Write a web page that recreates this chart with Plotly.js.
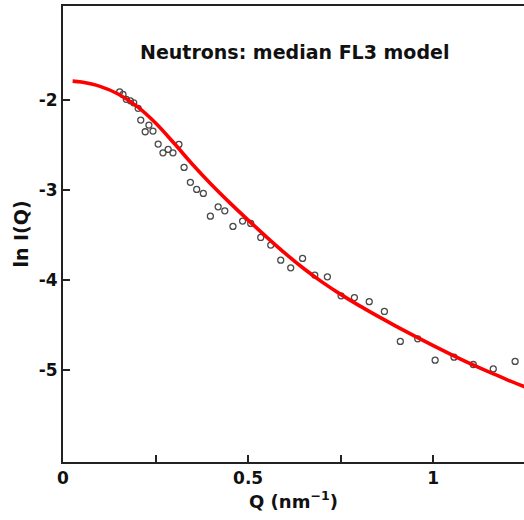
<!DOCTYPE html>
<html>
<head>
<meta charset="utf-8">
<script src="https://cdn.plot.ly/plotly-3.0.1.min.js"></script>
<style>html,body{margin:0;padding:0;background:#fff;}#chart{width:524px;height:520px;}</style>
</head>
<body>
<div id="chart"></div>
<script>
// Measured data points (Q in nm^-1, ln I(Q))
const dataQ = [0.153,0.162,0.171,0.182,0.191,0.203,0.210,0.222,0.232,0.243,0.257,0.270,0.284,0.297,0.313,0.327,0.344,0.361,0.379,0.398,0.419,0.437,0.459,0.485,0.507,0.534,0.561,0.588,0.615,0.647,0.680,0.714,0.751,0.787,0.827,0.868,0.911,0.958,1.005,1.056,1.108,1.162,1.221];
const dataLnI = [-1.908,-1.937,-1.992,-2.008,-2.030,-2.092,-2.222,-2.352,-2.278,-2.344,-2.489,-2.586,-2.548,-2.586,-2.492,-2.748,-2.914,-2.992,-3.037,-3.289,-3.186,-3.230,-3.403,-3.344,-3.370,-3.526,-3.611,-3.778,-3.863,-3.759,-3.944,-3.963,-4.174,-4.194,-4.239,-4.348,-4.681,-4.652,-4.889,-4.856,-4.937,-4.986,-4.903];

// Model curve (median FL3 model)
const modelQ = [0.026,0.05,0.10,0.15,0.20,0.25,0.30,0.35,0.40,0.45,0.50,0.55,0.60,0.65,0.70,0.75,0.80,0.85,0.90,0.95,1.00,1.05,1.10,1.15,1.20,1.25];
const modelLnI = [-1.789,-1.800,-1.848,-1.935,-2.070,-2.255,-2.480,-2.715,-2.935,-3.139,-3.333,-3.522,-3.703,-3.871,-4.022,-4.158,-4.283,-4.400,-4.513,-4.622,-4.728,-4.830,-4.928,-5.020,-5.107,-5.190];

const xTickVals = [0, 0.5, 1];
const xTickText = ['0', '0.5', '1'];
const xMinorStep = 0.25;
const yTickVals = [-2, -3, -4, -5];
const yTickText = ['-2', '-3', '-4', '-5'];

const titleText = 'Neutrons: median FL3 model';
const xTitle = 'Q (nm<sup>\u22121</sup>)';
const yTitle = 'ln I(Q)';

const FONT = 'DejaVu Sans, Liberation Sans, Arial, sans-serif';
const AX = '#222222';

const traces = [
  {
    x: dataQ, y: dataLnI, type: 'scatter', mode: 'markers',
    marker: {symbol: 'circle-open', size: 6, color: '#4a4a4a', line: {width: 1.3, color: '#4a4a4a'}},
    hoverinfo: 'skip', showlegend: false
  },
  {
    x: modelQ, y: modelLnI, type: 'scatter', mode: 'lines',
    line: {color: '#ff0000', width: 3.6, shape: 'spline', smoothing: 1.0},
    hoverinfo: 'skip', showlegend: false
  }
];

const layout = {
  width: 524, height: 520,
  margin: {l: 63, r: 0, t: 6, b: 58, pad: 0},
  paper_bgcolor: '#ffffff', plot_bgcolor: '#ffffff',
  showlegend: false,
  font: {family: FONT, color: '#111111', size: 17},
  xaxis: {
    range: [0, 1.245], showgrid: false, zeroline: false,
    showline: true, linecolor: AX, linewidth: 2, mirror: true,
    ticks: 'inside', ticklen: 7, tickwidth: 2, tickcolor: AX,
    tickmode: 'array', tickvals: xTickVals, ticktext: xTickText,
    minor: {tickmode: 'linear', tick0: 0, dtick: xMinorStep, ticks: 'inside', ticklen: 7, tickwidth: 2, tickcolor: AX, showgrid: false},
    tickfont: {family: FONT, size: 17, color: '#111111', weight: 'bold'},
    title: {text: xTitle, font: {family: FONT, size: 18, color: '#111111', weight: 'bold'}, standoff: 6}
  },
  yaxis: {
    range: [-6.02, -0.955], showgrid: false, zeroline: false,
    showline: true, linecolor: AX, linewidth: 2, mirror: false,
    ticks: 'inside', ticklen: 7, tickwidth: 2, tickcolor: AX,
    tickmode: 'array', tickvals: yTickVals, ticktext: yTickText,
    tickfont: {family: FONT, size: 17, color: '#111111', weight: 'bold'},
    title: {text: yTitle, font: {family: FONT, size: 19, color: '#111111', weight: 'bold'}, standoff: 5}
  },
  annotations: [{
    text: titleText, xref: 'x', yref: 'paper', x: 0.625, y: 0.899,
    xanchor: 'center', yanchor: 'middle', showarrow: false,
    font: {family: FONT, size: 19, color: '#111111', weight: 'bold'}
  }]
};

Plotly.newPlot('chart', traces, layout, {displayModeBar: false, staticPlot: true});
</script>
</body>
</html>
